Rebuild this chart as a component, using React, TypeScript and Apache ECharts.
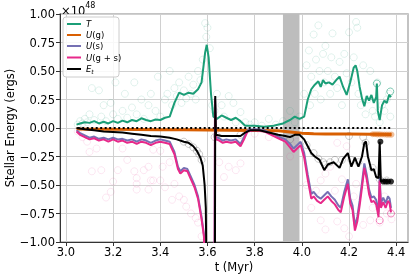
import React, { useEffect, useRef } from "react";
import * as echarts from "echarts";

const seriesNames = ["T", "U(g)", "U(s)", "U(g+s)", "E_t"];
const seriesColors = ["#1b9e77", "#d95f02", "#7570b3", "#e7298a", "#000000"];
const xTicks = [3.0, 3.2, 3.4, 3.6, 3.8, 4.0, 4.2, 4.4];
const shadeRange = [3.92, 3.99];
const zeroLine = [3.05, 4.38];

// T (kinetic)
const tT = [3.045, 3.06, 3.08, 3.1, 3.12, 3.14, 3.16, 3.18, 3.2, 3.22, 3.24, 3.26, 3.28, 3.3, 3.32, 3.34, 3.36, 3.38, 3.4, 3.42, 3.44, 3.46, 3.48, 3.5, 3.52, 3.54, 3.56, 3.575, 3.59, 3.597, 3.605, 3.615, 3.625, 3.64, 3.66, 3.68, 3.7, 3.72, 3.74, 3.76, 3.8, 3.84, 3.88, 3.92, 3.95, 3.97, 3.99, 4.01, 4.025, 4.04, 4.055, 4.07, 4.08, 4.09, 4.1, 4.115, 4.13, 4.15, 4.16, 4.175, 4.19, 4.205, 4.22, 4.228, 4.235, 4.245, 4.255, 4.265, 4.275, 4.285, 4.295, 4.305, 4.315, 4.318, 4.322, 4.33, 4.34, 4.35, 4.36, 4.37, 4.378];
const vT = [0.03, 0.04, 0.05, 0.045, 0.06, 0.04, 0.055, 0.04, 0.06, 0.045, 0.065, 0.05, 0.07, 0.06, 0.085, 0.07, 0.06, 0.075, 0.07, 0.09, 0.1, 0.22, 0.31, 0.29, 0.31, 0.3, 0.34, 0.4, 0.66, 0.73, 0.62, 0.3, 0.1, 0.08, 0.11, 0.09, 0.07, 0.09, 0.06, 0.02, 0.02, 0.01, 0.02, 0.04, 0.07, 0.1, 0.08, 0.1, 0.25, 0.34, 0.38, 0.41, 0.36, 0.42, 0.39, 0.4, 0.38, 0.43, 0.45, 0.36, 0.29, 0.4, 0.53, 0.55, 0.5, 0.36, 0.26, 0.19, 0.28, 0.24, 0.29, 0.22, 0.27, 0.39, 0.15, 0.07, 0.2, 0.24, 0.22, 0.29, 0.27];

// U(g)
const tG = [3.045, 3.1, 3.2, 3.3, 3.4, 3.5, 3.6, 3.7, 3.8, 3.9, 3.95, 4.0, 4.05, 4.1, 4.2, 4.3, 4.38];
const vG = [-0.008, -0.01, -0.012, -0.013, -0.015, -0.016, -0.018, -0.02, -0.022, -0.025, -0.035, -0.045, -0.05, -0.052, -0.053, -0.055, -0.058];

// U(s) and U(g+s) share the same sample times
const tS = [3.045, 3.06, 3.08, 3.1, 3.12, 3.14, 3.16, 3.18, 3.2, 3.22, 3.24, 3.26, 3.28, 3.3, 3.32, 3.34, 3.36, 3.38, 3.4, 3.42, 3.44, 3.46, 3.475, 3.485, 3.5, 3.515, 3.53, 3.545, 3.56, 3.575, 3.585, 3.595, 3.62, 3.628, 3.632, 3.636, 3.65, 3.665, 3.68, 3.7, 3.72, 3.74, 3.755, 3.77, 3.8, 3.84, 3.87, 3.9, 3.93, 3.95, 3.965, 3.98, 3.995, 4.01, 4.025, 4.04, 4.05, 4.065, 4.08, 4.095, 4.11, 4.125, 4.14, 4.155, 4.165, 4.18, 4.195, 4.205, 4.215, 4.225, 4.235, 4.245, 4.255, 4.265, 4.275, 4.285, 4.295, 4.305, 4.315, 4.325, 4.33, 4.335, 4.345, 4.355, 4.365, 4.372, 4.378];
const vS = [-0.02, -0.045, -0.065, -0.085, -0.075, -0.095, -0.085, -0.1, -0.085, -0.1, -0.095, -0.11, -0.1, -0.12, -0.1, -0.11, -0.13, -0.11, -0.1, -0.11, -0.12, -0.21, -0.34, -0.38, -0.35, -0.36, -0.43, -0.5, -0.6, -0.78, -0.93, -1.55, -3, -3, 0.26, -0.08, -0.09, -0.11, -0.1, -0.11, -0.1, -0.14, -0.08, -0.02, -0.01, -0.02, -0.045, -0.075, -0.1, -0.14, -0.18, -0.15, -0.12, -0.22, -0.41, -0.58, -0.56, -0.6, -0.62, -0.59, -0.56, -0.6, -0.63, -0.68, -0.7, -0.56, -0.45, -0.62, -0.68, -0.86, -0.78, -0.64, -0.48, -0.31, -0.41, -0.54, -0.61, -0.6, -0.63, -0.74, -0.43, -0.66, -0.61, -0.66, -0.6, -0.62, -0.7];
const vGS = [-0.03, -0.06, -0.08, -0.1, -0.09, -0.11, -0.1, -0.12, -0.1, -0.12, -0.11, -0.13, -0.12, -0.14, -0.12, -0.13, -0.15, -0.13, -0.12, -0.13, -0.14, -0.23, -0.36, -0.4, -0.37, -0.38, -0.45, -0.52, -0.62, -0.8, -0.95, -1.6, -3, -3, 0.25, -0.1, -0.11, -0.13, -0.12, -0.13, -0.12, -0.16, -0.1, -0.03, -0.02, -0.03, -0.06, -0.09, -0.12, -0.17, -0.21, -0.18, -0.15, -0.26, -0.45, -0.62, -0.6, -0.64, -0.66, -0.63, -0.6, -0.64, -0.67, -0.72, -0.74, -0.6, -0.49, -0.66, -0.72, -0.9, -0.82, -0.68, -0.52, -0.35, -0.45, -0.58, -0.65, -0.64, -0.67, -0.78, -0.46, -0.7, -0.65, -0.7, -0.64, -0.66, -0.74];

// E_t
const tE = [3.045, 3.08, 3.12, 3.16, 3.2, 3.24, 3.28, 3.32, 3.36, 3.4, 3.44, 3.47, 3.5, 3.52, 3.54, 3.555, 3.57, 3.58, 3.588, 3.593, 3.597, 3.62, 3.63, 3.633, 3.636, 3.66, 3.7, 3.74, 3.76, 3.78, 3.82, 3.86, 3.9, 3.93, 3.95, 3.97, 3.99, 4.01, 4.025, 4.04, 4.055, 4.075, 4.095, 4.11, 4.135, 4.16, 4.175, 4.195, 4.21, 4.225, 4.24, 4.255, 4.265, 4.272, 4.28, 4.295, 4.305, 4.315, 4.325, 4.33, 4.335, 4.35, 4.365, 4.378];
const vE = [0.0, -0.01, -0.02, -0.03, -0.035, -0.04, -0.05, -0.06, -0.07, -0.075, -0.085, -0.1, -0.12, -0.13, -0.16, -0.2, -0.26, -0.33, -0.5, -0.7, -1.5, -3, -3, 0.28, -0.06, -0.07, -0.07, -0.07, -0.04, -0.02, -0.02, -0.04, -0.06, -0.07, -0.08, -0.06, -0.06, -0.1, -0.16, -0.22, -0.25, -0.28, -0.37, -0.32, -0.3, -0.35, -0.27, -0.22, -0.34, -0.26, -0.34, -0.25, -0.13, -0.12, -0.25, -0.37, -0.36, -0.43, -0.44, -0.12, -0.47, -0.46, -0.47, -0.47];

// faint raw samples (hollow circles)
const rawT = [[3.05, 0.03], [3.06, 0.06], [3.07, 0.04], [3.08, 0.08], [3.09, 0.05], [3.1, 0.12], [3.11, 0.35], [3.12, 0.07], [3.14, 0.33], [3.15, 0.1], [3.16, 0.2], [3.17, 0.06], [3.19, 0.22], [3.2, 0.12], [3.21, 0.4], [3.22, 0.08], [3.24, 0.15], [3.25, 0.3], [3.26, 0.09], [3.28, 0.18], [3.29, 0.4], [3.3, 0.12], [3.32, 0.25], [3.33, 0.08], [3.35, 0.2], [3.36, 0.3], [3.38, 0.15], [3.39, 0.45], [3.4, 0.1], [3.42, 0.25], [3.43, 0.3], [3.44, 0.5], [3.45, 0.2], [3.46, 0.35], [3.47, 0.28], [3.48, 0.4], [3.49, 0.22], [3.5, 0.33], [3.51, 0.26], [3.52, 0.45], [3.53, 0.3], [3.54, 0.38], [3.55, 0.25], [3.56, 0.5], [3.57, 0.42], [3.58, 0.6], [3.59, 0.92], [3.595, 0.8], [3.6, 0.88], [3.61, 0.7], [3.62, 0.2], [3.63, 0.15], [3.64, 0.3], [3.66, 0.2], [3.67, 0.1], [3.69, 0.28], [3.71, 0.22], [3.72, 0.05], [3.74, 0.14], [3.76, 0.05], [3.78, 0.03], [3.8, 0.05], [3.83, 0.02], [3.86, 0.08], [3.89, 0.03], [3.92, 0.06], [3.95, 0.15], [3.97, 0.05], [3.99, 0.1], [4.01, 0.3], [4.02, 0.55], [4.03, 0.68], [4.035, 0.2], [4.04, 0.45], [4.05, 0.82], [4.055, 0.3], [4.06, 0.6], [4.07, 0.9], [4.075, 0.5], [4.08, 0.25], [4.09, 0.65], [4.095, 0.4], [4.1, 0.72], [4.11, 0.5], [4.12, 0.3], [4.125, 0.62], [4.13, 0.83], [4.14, 0.45], [4.15, 0.35], [4.16, 0.58], [4.17, 0.2], [4.18, 0.65], [4.19, 0.48], [4.2, 0.84], [4.21, 0.4], [4.22, 0.62], [4.23, 0.93], [4.235, 0.88], [4.24, 0.3], [4.25, 0.2], [4.26, 0.55], [4.27, 0.12], [4.28, 0.25], [4.29, 0.5], [4.3, 0.15], [4.31, 0.1], [4.32, 0.4], [4.33, 0.05], [4.34, 0.2], [4.35, 0.15], [4.36, 0.25], [4.37, 0.3], [4.375, 0.1]];
const rawGS = [[3.05, -0.03], [3.07, -0.08], [3.09, -0.12], [3.1, -0.21], [3.11, -0.38], [3.13, -0.18], [3.15, -0.37], [3.17, -0.61], [3.19, -0.56], [3.2, -0.47], [3.22, -0.37], [3.24, -0.18], [3.26, -0.28], [3.29, -0.38], [3.3, -0.54], [3.3, -0.44], [3.33, -0.37], [3.35, -0.34], [3.36, -0.46], [3.37, -0.19], [3.4, -0.2], [3.42, -0.52], [3.44, -0.3], [3.45, -0.63], [3.46, -0.49], [3.3, -0.49], [3.35, -0.54], [3.37, -0.46], [3.4, -0.46], [3.41, -0.34], [3.48, -0.6], [3.5, -0.63], [3.51, -0.69], [3.53, -0.75], [3.55, -0.79], [3.56, -0.83], [3.575, -0.95], [3.65, -0.3], [3.67, -0.43], [3.69, -0.34], [3.72, -0.37], [3.74, -0.31], [3.8, -0.05], [3.86, -0.08], [3.95, -0.25], [3.98, -0.12], [4.02, -0.5], [4.04, -0.7], [4.06, -0.55], [4.08, -0.81], [4.08, -0.46], [4.1, -0.89], [4.1, -0.4], [4.12, -0.34], [4.14, -0.55], [4.15, -0.82], [4.15, -0.13], [4.17, -0.45], [4.18, -0.88], [4.19, -0.16], [4.2, -0.95], [4.22, -0.6], [4.23, -0.49], [4.26, -0.85], [4.27, -0.5], [4.29, -0.81], [4.3, -0.7], [4.33, -0.83], [4.35, -0.6], [4.36, -0.75], [4.38, -0.8]];
const rawE = [[3.5, -0.12], [3.52, -0.14], [3.54, -0.17], [3.555, -0.2], [3.565, -0.23], [3.575, -0.28], [3.63, -0.08], [3.64, -0.07], [3.74, -0.06], [3.95, -0.1], [4.02, -0.15], [4.05, -0.22], [4.07, -0.27], [4.09, -0.3], [4.1, -0.32], [4.12, -0.3], [4.14, -0.28], [4.17, -0.28], [4.2, -0.07], [4.21, -0.28], [4.24, -0.3], [4.26, -0.08], [4.27, -0.13], [4.3, -0.35], [4.33, -0.45], [4.36, -0.46]];
const rawG = [[4.3, -0.055], [4.31, -0.055], [4.32, -0.056], [4.33, -0.056], [4.34, -0.057], [4.35, -0.057], [4.36, -0.058], [4.37, -0.058], [4.38, -0.058]];

const endT = [[4.318, 0.39], [4.375, 0.32]];
const endGS = [[4.33, -0.81], [4.378, -0.75]];
const endE = [[4.333, -0.12], [4.345, -0.47], [4.355, -0.47], [4.365, -0.47], [4.378, -0.47]];

const zip = (t: number[], v: number[]) => t.map((x, i) => [x, v[i]]);
const FONT = "DejaVu Sans";

export default function App() {
  const ref = useRef<HTMLDivElement>(null);
  useEffect(() => {
    if (!ref.current) return;
    const chart = echarts.init(ref.current, null, { renderer: "svg" });
    const lineData = [zip(tT, vT), zip(tG, vG), zip(tS, vS), zip(tS, vGS), zip(tE, vE)];
    const widths = [2, 3, 2, 2, 2];
    const lineSeries = lineData.map((d, i) => ({
      type: "line",
      name: seriesNames[i],
      data: d,
      showSymbol: false,
      symbol: "none",
      lineStyle: { color: seriesColors[i], width: widths[i] },
      z: 4,
      clip: true,
    }));
    const hollow = (data: number[][], rgba: string) => ({
      type: "scatter",
      data,
      symbol: "circle",
      symbolSize: 7,
      itemStyle: { color: "rgba(0,0,0,0)", borderColor: rgba, borderWidth: 1 },
      z: 3,
      silent: true,
    });
    const legendY = [24, 35, 46, 57.5, 69];
    const legendText = [
      "{i|T}",
      "{i|U}(g)",
      "{i|U}(s)",
      "{i|U}(g + s)",
      "{i|E}{s|t}",
    ];
    const legendRich = {
      i: { fontStyle: "italic", fontFamily: FONT, fontSize: 8.5, fill: "#000" },
      s: { fontStyle: "italic", fontFamily: FONT, fontSize: 6, fill: "#000", padding: [4, 0, 0, 0] },
    };
    const option: any = {
      animation: false,
      grid: { left: 60, right: 7, top: 14, bottom: 34, show: true, borderColor: "#b0b0b0", borderWidth: 1.5, outerBoundsMode: "none" },
      xAxis: {
        type: "value",
        min: 2.975,
        max: 4.45,
        axisLine: { show: true, onZero: false, lineStyle: { color: "#333", width: 1 } },
        axisTick: { show: true, length: 4, customValues: xTicks, lineStyle: { color: "#333" } },
        axisLabel: {
          customValues: xTicks,
          formatter: (v: number) => v.toFixed(1),
          fontFamily: FONT,
          fontSize: 11.5,
          color: "#000",
          margin: 4,
        },
        splitLine: { show: true, lineStyle: { color: "#d0d0d0", width: 1 } },
      },
      yAxis: {
        type: "value",
        min: -1,
        max: 1,
        interval: 0.25,
        axisLine: { show: true, onZero: false, lineStyle: { color: "#333", width: 1 } },
        axisTick: { show: true, length: 4, lineStyle: { color: "#333" } },
        axisLabel: {
          formatter: (v: number) => v.toFixed(2).replace("-", "\u2212"),
          fontFamily: FONT,
          fontSize: 11.5,
          color: "#000",
          margin: 5,
        },
        splitLine: { show: true, lineStyle: { color: "#d0d0d0", width: 1 } },
      },
      series: [
        {
          type: "line",
          data: [],
          z: 1,
          markArea: {
            silent: true,
            itemStyle: { color: "#bdbdbd" },
            data: [[{ xAxis: shadeRange[0] }, { xAxis: shadeRange[1] }]],
          },
        },
        hollow(rawT, "rgba(27,158,119,0.16)"),
        hollow(rawGS, "rgba(231,41,138,0.14)"),
        hollow(rawE, "rgba(80,80,80,0.35)"),
        {
          type: "scatter",
          data: rawG,
          symbolSize: 6,
          itemStyle: { color: "rgba(217,95,2,0.5)" },
          z: 3,
          silent: true,
        },
        ...lineSeries.slice(0, 2),
        {
          type: "line",
          data: [[zeroLine[0], 0], [zeroLine[1], 0]],
          showSymbol: false,
          symbol: "none",
          lineStyle: { color: "#000", width: 2, type: [2, 2.5] },
          z: 4,
        },
        ...lineSeries.slice(2),
        hollow(endT, "rgba(27,158,119,0.7)"),
        hollow(endGS, "rgba(231,41,138,0.7)"),
        {
          type: "scatter",
          data: endE,
          symbolSize: 6,
          itemStyle: { color: "#000" },
          z: 5,
          silent: true,
        },
      ],
      graphic: [
        {
          type: "text",
          x: 10,
          y: 128,
          rotation: Math.PI / 2,
          style: { text: "Stellar Energy (ergs)", fontFamily: FONT, fontSize: 11.5, fill: "#000", textAlign: "center", textVerticalAlign: "middle" },
        },
        {
          type: "text",
          x: 234,
          y: 267,
          style: { text: "t (Myr)", fontFamily: FONT, fontSize: 11.5, fill: "#000", textAlign: "center", textVerticalAlign: "middle" },
        },
        {
          type: "text",
          x: 61,
          y: 0,
          style: {
            text: "{a|\u00d710}{b|48}",
            rich: {
              a: { fontFamily: FONT, fontSize: 11.5, fill: "#000", padding: [5, 0, 0, 0] },
              b: { fontFamily: FONT, fontSize: 8, fill: "#000", padding: [0, 0, 6, 0] },
            },
          },
        },
        {
          type: "rect",
          shape: { x: 63, y: 17, width: 56, height: 60, r: 3 },
          style: { fill: "rgba(255,255,255,0.85)", stroke: "#cccccc", lineWidth: 1 },
          z: 100,
        },
        ...legendY.flatMap((y, i) => [
          {
            type: "line",
            shape: { x1: 67, y1: y, x2: 81, y2: y },
            style: { stroke: seriesColors[i], lineWidth: 2 },
            z: 101,
          },
          {
            type: "text",
            x: 86,
            y: y,
            style: {
              text: legendText[i],
              rich: legendRich,
              fontFamily: FONT,
              fontSize: 8.5,
              fill: "#000",
              textVerticalAlign: "middle",
            },
            z: 101,
          },
        ]),
      ],
    };
    chart.setOption(option);
    return () => chart.dispose();
  }, []);
  return <div ref={ref} style={{ position: "fixed", left: 0, top: 0, width: 415, height: 276 }} />;
}
